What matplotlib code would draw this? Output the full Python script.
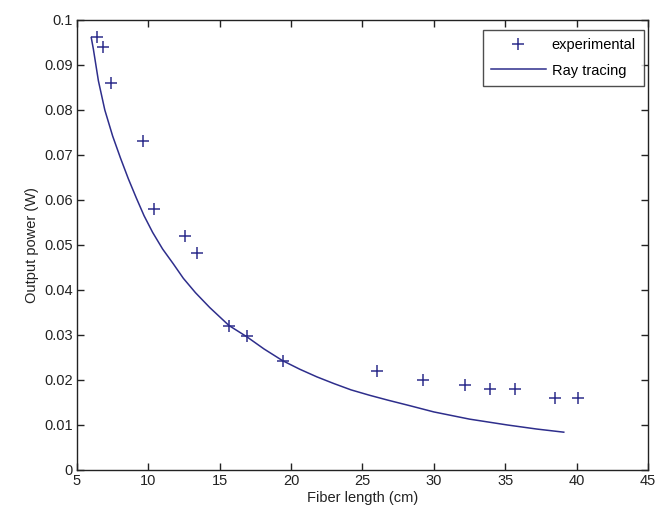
import matplotlib
matplotlib.use("Agg")
import matplotlib.pyplot as plt

plt.rcParams['font.family'] = ['Liberation Sans', 'DejaVu Sans']

# Experimental data
exp_x = [6.4, 6.8, 7.4, 9.6, 10.4, 12.6, 13.4, 15.65, 16.9, 19.4, 26.0, 29.25, 32.2, 33.9, 35.7, 38.5, 40.1]
exp_y = [0.0963, 0.0941, 0.0861, 0.0730, 0.0581, 0.0520, 0.0482, 0.0321, 0.0298, 0.0242,
         0.0220, 0.0200, 0.0189, 0.0179, 0.0179, 0.0159, 0.0159]

# Ray tracing curve
ray_x = [6.0, 6.15, 6.5, 6.95, 7.5, 8.05, 8.6, 9.15, 9.7, 10.3, 11.0, 11.75, 12.45, 13.3, 14.3,
         15.65, 16.9, 18.1, 19.4, 20.6, 21.8, 23.0, 24.2, 25.5, 26.8, 28.3, 30.0, 32.5, 35.15, 37.2, 39.1]
ray_y = [0.0961, 0.0935, 0.0865, 0.0800, 0.0742, 0.0693, 0.0647, 0.0605, 0.0565, 0.0528, 0.0491,
         0.0458, 0.0426, 0.0394, 0.0361, 0.0321, 0.0296, 0.0269, 0.0243, 0.0224, 0.0207, 0.0192,
         0.0178, 0.0166, 0.0155, 0.0143, 0.0129, 0.0113, 0.0100, 0.0091, 0.0084]

xticks = [5, 10, 15, 20, 25, 30, 35, 40, 45]
yticks = [0, 0.01, 0.02, 0.03, 0.04, 0.05, 0.06, 0.07, 0.08, 0.09, 0.1]
ytick_labels = ['0', '0.01', '0.02', '0.03', '0.04', '0.05', '0.06', '0.07', '0.08', '0.09', '0.1']

color = '#2e2e8c'

fig = plt.figure(figsize=(6.59, 5.18), dpi=100)
ax = fig.add_axes([0.1168, 0.0927, 0.8665, 0.8687])

ax.plot(exp_x, exp_y, linestyle='none', marker='+', markersize=9, markeredgewidth=1.1,
        color=color, label='experimental')
ax.plot(ray_x, ray_y, '-', color=color, linewidth=1.1, label='Ray tracing')

ax.set_xlim(5, 45)
ax.set_ylim(0, 0.1)
ax.set_xticks(xticks)
ax.set_xticklabels([str(t) for t in xticks])
ax.set_yticks(yticks)
ax.set_yticklabels(ytick_labels)

ax.tick_params(direction='in', length=5, width=1, top=True, right=True, labelsize=10.5,
               colors='#222222', pad=3)
for s in ax.spines.values():
    s.set_linewidth(1.0)
    s.set_color('#222222')

ax.set_xlabel('Fiber length (cm)', fontsize=10.5, color='#222222', labelpad=2)
ax.set_ylabel('Output power (W)', fontsize=10.5, color='#222222', labelpad=4)

leg = ax.legend(loc='upper right', bbox_to_anchor=(0.993, 0.978), fontsize=10.5, frameon=True,
                fancybox=False, edgecolor='#222222', borderaxespad=0.0, handlelength=3.8,
                borderpad=0.55, labelspacing=0.8, handletextpad=0.4)
leg.get_frame().set_linewidth(1.0)

fig.savefig('out.png', dpi=100)
